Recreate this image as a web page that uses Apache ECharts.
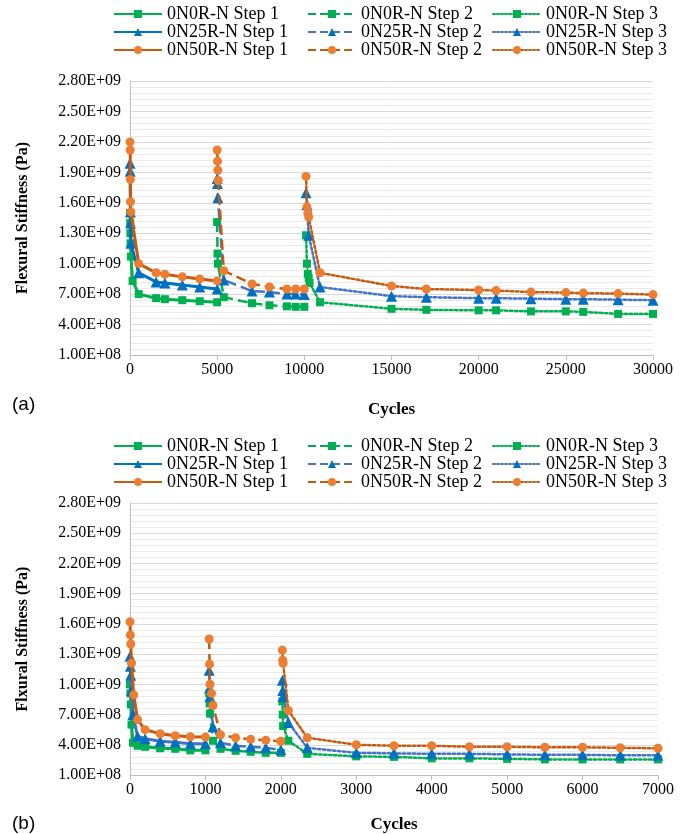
<!DOCTYPE html>
<html>
<head>
<meta charset="utf-8">
<script src="https://cdn.jsdelivr.net/npm/echarts@6/dist/echarts.min.js"></script>
<style>
  html, body { margin: 0; padding: 0; background: #fff; }
  #chart { width: 694px; height: 834px; }
</style>
</head>
<body>
<div id="chart"></div>
<script>
// (a) cycles vs flexural stiffness, [cycles, Pa]
const a_N0_s1 = [[0,1.5e9],[10,1.4e9],[20,1.3e9],[30,1.2e9],[50,1.07e9],[150,8.3e8],[500,7.0e8],[1500,6.6e8],[2000,6.5e8],[3000,6.4e8],[4000,6.3e8],[5000,6.2e8]]
const a_N0_s2 = [[5000,1.41e9],[5020,1.1e9],[5040,1.0e9],[5380,6.7e8],[7000,6.1e8],[8000,5.9e8],[9000,5.8e8],[9500,5.75e8],[10000,5.75e8]]
const a_N0_s3 = [[10100,1.28e9],[10150,1.0e9],[10200,9.0e8],[10250,8.6e8],[10300,8.1e8],[10900,6.2e8],[15000,5.55e8],[17000,5.45e8],[20000,5.4e8],[21000,5.4e8],[23000,5.3e8],[25000,5.3e8],[26000,5.25e8],[28000,5.05e8],[30000,5.05e8]]
const a_N25_s1 = [[0,1.99e9],[10,1.91e9],[20,1.51e9],[30,1.4e9],[50,1.2e9],[500,9.1e8],[1500,8.2e8],[2000,8.1e8],[3000,7.9e8],[4000,7.7e8],[5000,7.5e8]]
const a_N25_s2 = [[5000,1.84e9],[5020,1.79e9],[5040,1.65e9],[5380,8.4e8],[7000,7.3e8],[8000,7.2e8],[9000,7.0e8],[9500,7.0e8],[10000,6.95e8]]
const a_N25_s3 = [[10100,1.7e9],[10150,1.58e9],[10250,1.28e9],[10900,7.7e8],[15000,6.8e8],[17000,6.7e8],[20000,6.6e8],[21000,6.6e8],[23000,6.55e8],[25000,6.5e8],[26000,6.5e8],[28000,6.45e8],[30000,6.4e8]]
const a_N50_s1 = [[0,2.2e9],[10,2.12e9],[20,1.83e9],[30,1.61e9],[50,1.51e9],[500,1.0e9],[1500,9.1e8],[2000,8.96e8],[3000,8.7e8],[4000,8.5e8],[5000,8.3e8]]
const a_N50_s2 = [[5000,2.12e9],[5020,2.01e9],[5040,1.92e9],[5060,1.82e9],[5380,9.3e8],[7000,8.0e8],[8000,7.7e8],[9000,7.5e8],[9500,7.5e8],[10000,7.5e8]]
const a_N50_s3 = [[10100,1.86e9],[10150,1.56e9],[10200,1.5e9],[10250,1.46e9],[10900,9.1e8],[15000,7.8e8],[17000,7.5e8],[20000,7.4e8],[21000,7.35e8],[23000,7.2e8],[25000,7.15e8],[26000,7.1e8],[28000,7.05e8],[30000,6.95e8]]

// (b)
const b_N0_s1 = [[0,1.0e9],[5,9.1e8],[10,8.0e8],[20,6.0e8],[40,4.2e8],[100,3.9e8],[200,3.8e8],[400,3.65e8],[600,3.6e8],[800,3.45e8],[1000,3.45e8]]
const b_N0_s2 = [[1050,9.1e8],[1055,8.1e8],[1060,7.1e8],[1100,4.4e8],[1200,3.6e8],[1400,3.4e8],[1600,3.3e8],[1800,3.2e8],[2000,3.2e8]]
const b_N0_s3 = [[2020,8.3e8],[2025,7.0e8],[2030,5.85e8],[2100,4.4e8],[2350,3.1e8],[3000,2.85e8],[3500,2.8e8],[4000,2.65e8],[4500,2.65e8],[5000,2.6e8],[5500,2.55e8],[6000,2.55e8],[6500,2.55e8],[7000,2.55e8]]
const b_N25_s1 = [[0,1.28e9],[5,1.18e9],[10,1.09e9],[20,9.4e8],[40,7.0e8],[100,4.85e8],[200,4.6e8],[400,4.35e8],[600,4.25e8],[800,4.1e8],[1000,4.1e8]]
const b_N25_s2 = [[1050,1.14e9],[1055,9.6e8],[1060,8.8e8],[1100,5.8e8],[1200,4.2e8],[1400,3.9e8],[1600,3.8e8],[1800,3.7e8],[2000,3.5e8]]
const b_N25_s3 = [[2020,1.04e9],[2025,9.4e8],[2030,8.8e8],[2100,6.2e8],[2350,3.7e8],[3000,3.2e8],[3500,3.15e8],[4000,3.1e8],[4500,3.1e8],[5000,3.05e8],[5500,3.0e8],[6000,3.0e8],[6500,2.95e8],[7000,2.95e8]]
const b_N50_s1 = [[0,1.62e9],[5,1.49e9],[10,1.4e9],[20,1.21e9],[50,8.95e8],[100,6.5e8],[200,5.5e8],[400,5.1e8],[600,4.9e8],[800,4.8e8],[1000,4.76e8]]
const b_N50_s2 = [[1050,1.45e9],[1055,1.2e9],[1060,1.0e9],[1080,9.1e8],[1100,7.9e8],[1200,5.0e8],[1400,4.7e8],[1600,4.55e8],[1800,4.45e8],[2000,4.35e8]]
const b_N50_s3 = [[2020,1.34e9],[2025,1.24e9],[2030,1.21e9],[2100,7.4e8],[2350,4.7e8],[3000,4.0e8],[3500,3.9e8],[4000,3.9e8],[4500,3.8e8],[5000,3.8e8],[5500,3.75e8],[6000,3.75e8],[6500,3.7e8],[7000,3.65e8]]

const specimens = ['0N0R-N', '0N25R-N', '0N50R-N']
const steps = ['Step 1', 'Step 2', 'Step 3']
const yLabels = { min: 1e8, max: 2.8e9, step: 3e8 }
const xMaxA = 30000, xStepA = 5000
const xMaxB = 7000, xStepB = 1000

const dataA = [[a_N0_s1, a_N0_s2, a_N0_s3], [a_N25_s1, a_N25_s2, a_N25_s3], [a_N50_s1, a_N50_s2, a_N50_s3]]
const dataB = [[b_N0_s1, b_N0_s2, b_N0_s3], [b_N25_s1, b_N25_s2, b_N25_s3], [b_N50_s1, b_N50_s2, b_N50_s3]]

const SERIF = 'Liberation Serif'
const markerColor = ['#00B050', '#0070C0', '#ED7D31']
const lineColorA = [['#00B050', '#00B050', '#00B050'], ['#0070C0', '#4472C4', '#4472C4'], ['#C55A11', '#C55A11', '#C55A11']]
const lineColorB = [['#00B050', '#00B050', '#00B050'], ['#4472C4', '#4472C4', '#4472C4'], ['#C55A11', '#C55A11', '#C55A11']]
const symbols = ['rect', 'triangle', 'circle']
const symbolSizes = [8, 11, 9]
const lineTypes = ['solid', 'dashed', 'dotted']
const lineWidths = [3, 2.5, 2.5]

function sci(v) {
  const e = Math.floor(Math.log10(v) + 1e-9)
  const m = v / Math.pow(10, e)
  return m.toFixed(2) + 'E+' + String(e).padStart(2, '0')
}

function buildSeries(gridIdx, data, lineColors) {
  const out = []
  specimens.forEach((sp, i) => {
    steps.forEach((st, j) => {
      out.push({
        type: 'line',
        name: sp + ' ' + st,
        xAxisIndex: gridIdx,
        yAxisIndex: gridIdx,
        data: data[i][j],
        symbol: symbols[i],
        symbolSize: symbolSizes[i],
        showAllSymbol: true,
        itemStyle: { color: markerColor[i] },
        lineStyle: { color: lineColors[i][j], width: lineWidths[j], type: lineTypes[j], cap: j === 2 ? 'round' : 'butt' },
        animation: false,
        z: 2 + i,
      })
    })
  })
  return out
}

function yAxis(gridIdx, name) {
  return {
    gridIndex: gridIdx,
    type: 'value',
    min: yLabels.min,
    max: yLabels.max,
    interval: yLabels.step,
    axisLine: { show: true, lineStyle: { color: '#BFBFBF', width: 1 } },
    axisTick: { show: false },
    axisLabel: { formatter: sci, fontFamily: SERIF, fontSize: 16, color: '#000', margin: 9 },
    splitLine: { lineStyle: { color: '#D9D9D9', width: 1 } },
    minorTick: { show: false, splitNumber: 5 },
    minorSplitLine: { show: true, lineStyle: { color: '#EAEAEA', width: 1 } },
    name: name,
    nameLocation: 'middle',
    nameGap: 99,
    nameTextStyle: { fontFamily: SERIF, fontWeight: 'bold', fontSize: 16, color: '#000' },
  }
}

function xAxis(gridIdx, max, interval, nameGap) {
  return {
    gridIndex: gridIdx,
    type: 'value',
    min: 0,
    max: max,
    interval: interval,
    axisLine: { show: true, lineStyle: { color: '#BFBFBF', width: 1 } },
    axisTick: { show: true, length: 5, lineStyle: { color: '#BFBFBF' } },
    axisLabel: { fontFamily: SERIF, fontSize: 16, color: '#000', margin: 7, formatter: v => String(v) },
    splitLine: { show: false },
    name: 'Cycles',
    nameLocation: 'middle',
    nameGap: nameGap,
    nameTextStyle: { fontFamily: SERIF, fontWeight: 'bold', fontSize: 17, color: '#000' },
  }
}

// one vertical legend per column (step), three rows (specimens)
function legends(top) {
  const lefts = [113, 307, 492]
  return steps.map((st, j) => ({
    orient: 'vertical',
    left: lefts[j],
    top: top,
    padding: 0,
    itemWidth: 48,
    itemHeight: 10,
    itemGap: 0,
    data: specimens.map(sp => sp + ' ' + st),
    textStyle: { fontFamily: SERIF, fontSize: 18, color: '#000', lineHeight: 17 },
    selectedMode: false,
  }))
}

const chart = echarts.init(document.getElementById('chart'), null, { renderer: 'canvas' })
chart.setOption({
  backgroundColor: '#fff',
  animation: false,
  grid: [
    { left: 130, top: 81, width: 523, height: 274 },
    { left: 130, top: 503, width: 528, height: 279 },
  ],
  legend: legends(5).concat(legends(437)),
  xAxis: [xAxis(0, xMaxA, xStepA, 46), xAxis(1, xMaxB, xStepB, 41)],
  yAxis: [yAxis(0, 'Flexural Stiffness (Pa)'), yAxis(1, 'Flxural Stiffness (Pa)')],
  series: buildSeries(0, dataA, lineColorA).concat(buildSeries(1, dataB, lineColorB)),
  graphic: [
    { type: 'text', left: 12, top: 395, style: { text: '(a)', font: '19px "Liberation Sans"', fill: '#000' } },
    { type: 'text', left: 12, top: 814, style: { text: '(b)', font: '19px "Liberation Sans"', fill: '#000' } },
  ],
})
</script>
</body>
</html>
